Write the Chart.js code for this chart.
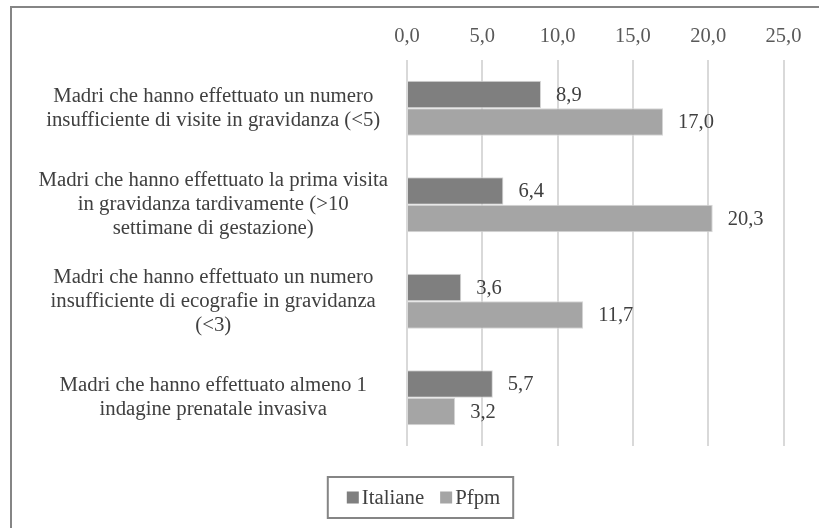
<!DOCTYPE html>
<html>
<head>
<meta charset="utf-8">
<script src="https://cdn.jsdelivr.net/npm/chart.js@4.4.1/dist/chart.umd.min.js"></script>
<style>
  html, body { margin: 0; padding: 0; background: #ffffff; }
  #wrap { position: relative; width: 819px; height: 528px; overflow: hidden; }
  #frame { position: absolute; left: 10px; top: 6px; width: 900px; height: 600px;
           border-left: 2px solid #858585; border-top: 2px solid #858585; }
  canvas { position: absolute; left: 0; top: 0; }
</style>
</head>
<body>
<div id="wrap">
  <div id="frame"></div>
  <canvas id="c" width="819" height="528"></canvas>
</div>
<script>
const categories = [
  ["Madri che hanno effettuato un numero", "insufficiente di visite in gravidanza (<5)"],
  ["Madri che hanno effettuato la prima visita", "in gravidanza tardivamente (>10", "settimane di gestazione)"],
  ["Madri che hanno effettuato un numero", "insufficiente di ecografie in gravidanza", "(<3)"],
  ["Madri che hanno effettuato almeno 1", "indagine prenatale invasiva"]
];
const seriesNames = ["Italiane", "Pfpm"];
const italiane = [8.9, 6.4, 3.6, 5.7];
const pfpm = [17.0, 20.3, 11.7, 3.2];
const xTicks = [0, 5, 10, 15, 20, 25];

const FONT = "'Liberation Serif', 'Times New Roman', serif";
const fmt = v => v.toFixed(1).replace('.', ',');

const valueLabels = {
  id: 'valueLabels',
  afterDatasetsDraw(chart) {
    const ctx = chart.ctx;
    ctx.save();
    ctx.font = "20.5px " + FONT;
    ctx.fillStyle = '#404040';
    ctx.textBaseline = 'middle';
    ctx.textAlign = 'left';
    chart.data.datasets.forEach((ds, di) => {
      chart.getDatasetMeta(di).data.forEach((bar, i) => {
        ctx.fillText(fmt(ds.data[i]), bar.x + 15, bar.y + 1);
      });
    });
    ctx.restore();
  }
};

const boxLegend = {
  id: 'boxLegend',
  afterDraw(chart) {
    const ctx = chart.ctx;
    ctx.save();
    ctx.font = "20.8px " + FONT;
    const sq = 12, gapText = 3, gapItem = 16;
    const items = chart.data.datasets.map(ds => ({ text: ds.label, color: ds.backgroundColor, w: ctx.measureText(ds.label).width }));
    let total = 0;
    items.forEach((it, i) => { total += sq + gapText + it.w + (i < items.length - 1 ? gapItem : 0); });
    const cy = 497.5;
    let x = 423.5 - total / 2;
    const boxL = x - 19, boxR = x + total + 13;
    ctx.strokeStyle = '#858585';
    ctx.lineWidth = 2;
    ctx.strokeRect(boxL, 477, boxR - boxL, 41);
    ctx.textBaseline = 'middle';
    ctx.textAlign = 'left';
    items.forEach(it => {
      ctx.fillStyle = it.color;
      ctx.fillRect(x, cy - 6, sq, sq);
      x += sq + gapText;
      ctx.fillStyle = '#404040';
      ctx.fillText(it.text, x, cy + 1);
      x += it.w + gapItem;
    });
    ctx.restore();
  }
};

new Chart(document.getElementById('c'), {
  type: 'bar',
  data: {
    labels: categories,
    datasets: [
      { label: seriesNames[0], data: italiane, backgroundColor: '#7f7f7f', borderColor: '#d6d6d6', borderWidth: 1,
        categoryPercentage: 0.57, barPercentage: 1.0 },
      { label: seriesNames[1], data: pfpm, backgroundColor: '#a5a5a5', borderColor: '#d6d6d6', borderWidth: 1,
        categoryPercentage: 0.57, barPercentage: 1.0 }
    ]
  },
  options: {
    indexAxis: 'y',
    responsive: false,
    animation: false,
    layout: { padding: { left: 0, right: 35.5, top: 0, bottom: 82 } },
    plugins: { legend: { display: false }, tooltip: { enabled: false } },
    scales: {
      x: {
        position: 'top',
        min: 0, max: 25,
        afterBuildTicks: axis => { axis.ticks = xTicks.map(v => ({ value: v })); },
        afterFit: axis => { axis.height = 60; },
        ticks: { padding: 11, color: '#595959', font: { family: FONT, size: 20.5 }, callback: v => fmt(v) },
        grid: { color: '#d9d9d9', lineWidth: 2, drawTicks: false },
        border: { display: false }
      },
      y: {
        afterFit: axis => { axis.width = 407; },
        ticks: { crossAlign: 'center', padding: 11, color: '#404040', font: { family: FONT, size: 20.8, lineHeight: 1.16 } },
        grid: { display: false },
        border: { display: false }
      }
    }
  },
  plugins: [valueLabels, boxLegend]
});
</script>
</body>
</html>
